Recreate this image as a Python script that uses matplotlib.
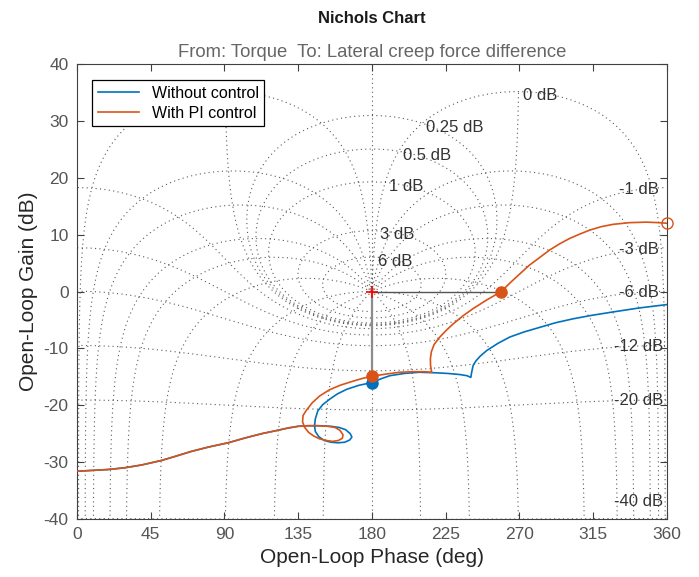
import numpy as np
import matplotlib.pyplot as plt

plt.rcParams['font.family'] = ['Liberation Sans', 'DejaVu Sans']
plt.rcParams['axes.unicode_minus'] = False

# low-frequency part, identical for both systems
shared_phase = [0, 19, 29, 39.5, 51.7, 61, 70, 81, 92.3, 102, 112.7, 121, 128.9, 135, 141]
shared_gain = [-31.6, -31.3, -31.0, -30.5, -29.7, -28.9, -28.1, -27.3, -26.6, -25.8, -25.0, -24.5, -24.0, -23.7, -23.6]

# without control (after the shared part)
plain_phase = [141, 148, 155, 160, 164, 166.8, 167.8, 166.5, 163.5, 159.4, 155, 151, 147.5, 145.5,
               145, 145.5, 147, 150, 154.4, 159, 164.6, 172, 180, 186, 191, 200, 209, 219.4, 226,
               233.7, 238, 240.4, 240.9, 241.8, 243.5, 246, 250, 257, 264.2, 273, 282.5, 292,
               302.8, 314, 327, 343, 360]
plain_gain = [-23.6, -23.6, -23.7, -23.9, -24.3, -25.0, -25.6, -26.1, -26.5, -26.6, -26.5, -26.2, -25.5, -24.6,
              -23.6, -22.4, -21.0, -19.9, -18.9, -18.0, -17.2, -16.5, -16.0, -15.3, -14.8, -14.4, -14.2, -14.3, -14.4,
              -14.6, -14.8, -15.1, -14.2, -13.0, -12.2, -11.4, -10.4, -9.1, -8.0, -7.1, -6.3, -5.5,
              -4.8, -4.2, -3.6, -2.9, -2.3]

# with PI control (after the shared part)
pi_phase = [141, 147, 153, 157.5, 160.5, 162.4, 162, 159.5, 156, 152.3, 148, 144.5, 141.5, 139,
            137.7, 138, 140, 143.5, 148, 154, 160.5, 167, 174, 180, 189, 197, 205, 212, 216.5,
            215.8, 215.7, 216.3, 218, 221.5, 225.5, 229.6, 235.5, 241.8, 250, 259, 265, 270.3,
            276, 282.5, 288.5, 294.7, 300.5, 306.9, 313, 320, 327, 337, 347.6, 355, 360]
pi_gain = [-23.6, -23.6, -23.7, -23.9, -24.4, -25.2, -25.8, -26.2, -26.35, -26.2, -25.9, -25.4, -24.8, -23.9,
           -22.9, -21.8, -20.9, -19.6, -18.4, -17.3, -16.5, -15.9, -15.3, -14.9, -14.5, -14.2, -14.1, -14.1, -14.2,
           -13.0, -11.8, -10.6, -9.3, -8.0, -6.8, -5.7, -4.3, -3.0, -1.5, 0.0, 1.7, 3.1,
           4.6, 6.0, 7.3, 8.4, 9.3, 10.1, 10.8, 11.4, 11.8, 12.1, 12.2, 12.1, 12.0]

# stability margin points
gm_phase = 180
gm_gain_plain = -16.0
gm_gain_pi = -14.9
pm_phase_pi = 259
end_phase_pi, end_gain_pi = 360, 12.0

# Nichols grid values
m_db = [6, 3, 1, 0.5, 0.25, 0, -1, -3, -6, -12, -20, -40]
n_deg = [1, 5, 10, 20, 30, 50, 90, 120, 150]

blue = '#0072BD'
orange = '#D95319'
grid_c = '#5a5a5a'


def nichols_xy(L):
    ph = np.mod(np.degrees(np.angle(L)), 360)
    db = 20 * np.log10(np.abs(L))
    idx = np.where(np.abs(np.diff(ph)) > 180)[0] + 1
    return np.insert(ph, idx, np.nan), np.insert(db, idx, np.nan)


fig = plt.figure(figsize=(6.99, 5.77), dpi=100)
ax = fig.add_axes([0.110, 0.1005, 0.844, 0.7886])

gstyle = dict(color=grid_c, lw=0.8, ls=(0, (1, 3)), zorder=1)

# closed-loop gain contours
for m in m_db:
    mag = 10 ** (m / 20)
    if m == 0:
        # 0 dB contour runs off to infinity, draw both halves separately
        segs = [np.linspace(1.0, 179.999, 1500), np.linspace(-179.999, -1.0, 1500)]
    else:
        segs = [np.linspace(-179.999, 179.999, 3000)]
    for s in segs:
        T = mag * np.exp(1j * np.radians(s))
        x, y = nichols_xy(T / (1 - T))
        ax.plot(x, y, **gstyle)
    lab = f'{m:g} dB'
    if m >= 0:
        T = mag * np.exp(-1j * np.radians(1.0))
        L = T / (1 - T)
        lx = np.mod(np.degrees(np.angle(L)), 360)
        ly = 20 * np.log10(np.abs(L))
        ax.annotate(lab, (lx, ly), xytext=(3, -3), textcoords='offset points',
                    ha='left', va='center', fontsize=12, color='#333333', zorder=2)
    else:
        phi = np.radians(343)
        r = (2 * mag**2 * np.cos(phi) + np.sqrt(4 * mag**4 * np.cos(phi)**2 + 4 * mag**2 * (1 - mag**2))) / (2 * (1 - mag**2))
        ly = max(20 * np.log10(r), -37)
        ax.text(343, ly, lab, ha='center', va='center', fontsize=12, color='#333333', zorder=2)

# closed-loop phase contours
rho = np.logspace(-3, 4, 6000)
for p in n_deg:
    for s in (1, -1):
        T = rho * np.exp(1j * np.radians(s * p))
        x, y = nichols_xy(T / (1 - T))
        ax.plot(x, y, **gstyle)
ax.axvline(180, **gstyle)

# response curves
ax.plot(shared_phase + plain_phase[1:], shared_gain + plain_gain[1:], color=blue, lw=1.2,
        zorder=3, label='Without control')
ax.plot(shared_phase + pi_phase[1:], shared_gain + pi_gain[1:], color=orange, lw=1.2,
        zorder=4, label='With PI control')

# margin indicators
ax.plot([gm_phase, pm_phase_pi], [0, 0], color='#555555', lw=1.0, zorder=3)
ax.plot([gm_phase, gm_phase], [0, gm_gain_plain], color='#8c8c8c', lw=1.6, zorder=3)
ax.plot(gm_phase, gm_gain_plain, 'o', color=blue, ms=8, zorder=5)
ax.plot(gm_phase, gm_gain_pi, 'o', color=orange, ms=8, zorder=6)
ax.plot(pm_phase_pi, 0, 'o', color=orange, ms=8, zorder=6)
ax.plot(end_phase_pi, end_gain_pi, 'o', mfc='none', mec=orange, ms=8, mew=1.0, zorder=6, clip_on=False)
ax.plot(180, 0, '+', color='red', ms=8, mew=1.2, zorder=7)

ax.set_xlim(0, 360)
ax.set_ylim(-40, 40)
ax.set_xticks(np.arange(0, 361, 45))
ax.set_yticks(np.arange(-40, 41, 10))
ax.tick_params(direction='in', top=True, right=True, length=5, width=0.8,
               color='#404040', labelcolor='#555555', labelsize=12.5, pad=6)
for sp in ax.spines.values():
    sp.set_color('#404040')
    sp.set_linewidth(0.8)

ax.set_xlabel('Open-Loop Phase (deg)', fontsize=15, color='#262626', labelpad=4)
ax.set_ylabel('Open-Loop Gain (dB)', fontsize=15, color='#262626', labelpad=4)
ax.set_title('From: Torque  To: Lateral creep force difference', fontsize=13.3,
             color='#666666', pad=5)
fig.text(0.532, 0.968, 'Nichols Chart', ha='center', va='center', fontsize=12,
         fontweight='bold', color='#1a1a1a')

leg = ax.legend(loc='upper left', fontsize=11.5, frameon=True, fancybox=False,
                framealpha=1, edgecolor='black', handlelength=2.6, borderpad=0.35,
                labelspacing=0.3, bbox_to_anchor=(0.012, 0.982))
leg.get_frame().set_linewidth(0.9)
leg.set_zorder(10)

fig.savefig('out.png', dpi=100)
plt.close(fig)
